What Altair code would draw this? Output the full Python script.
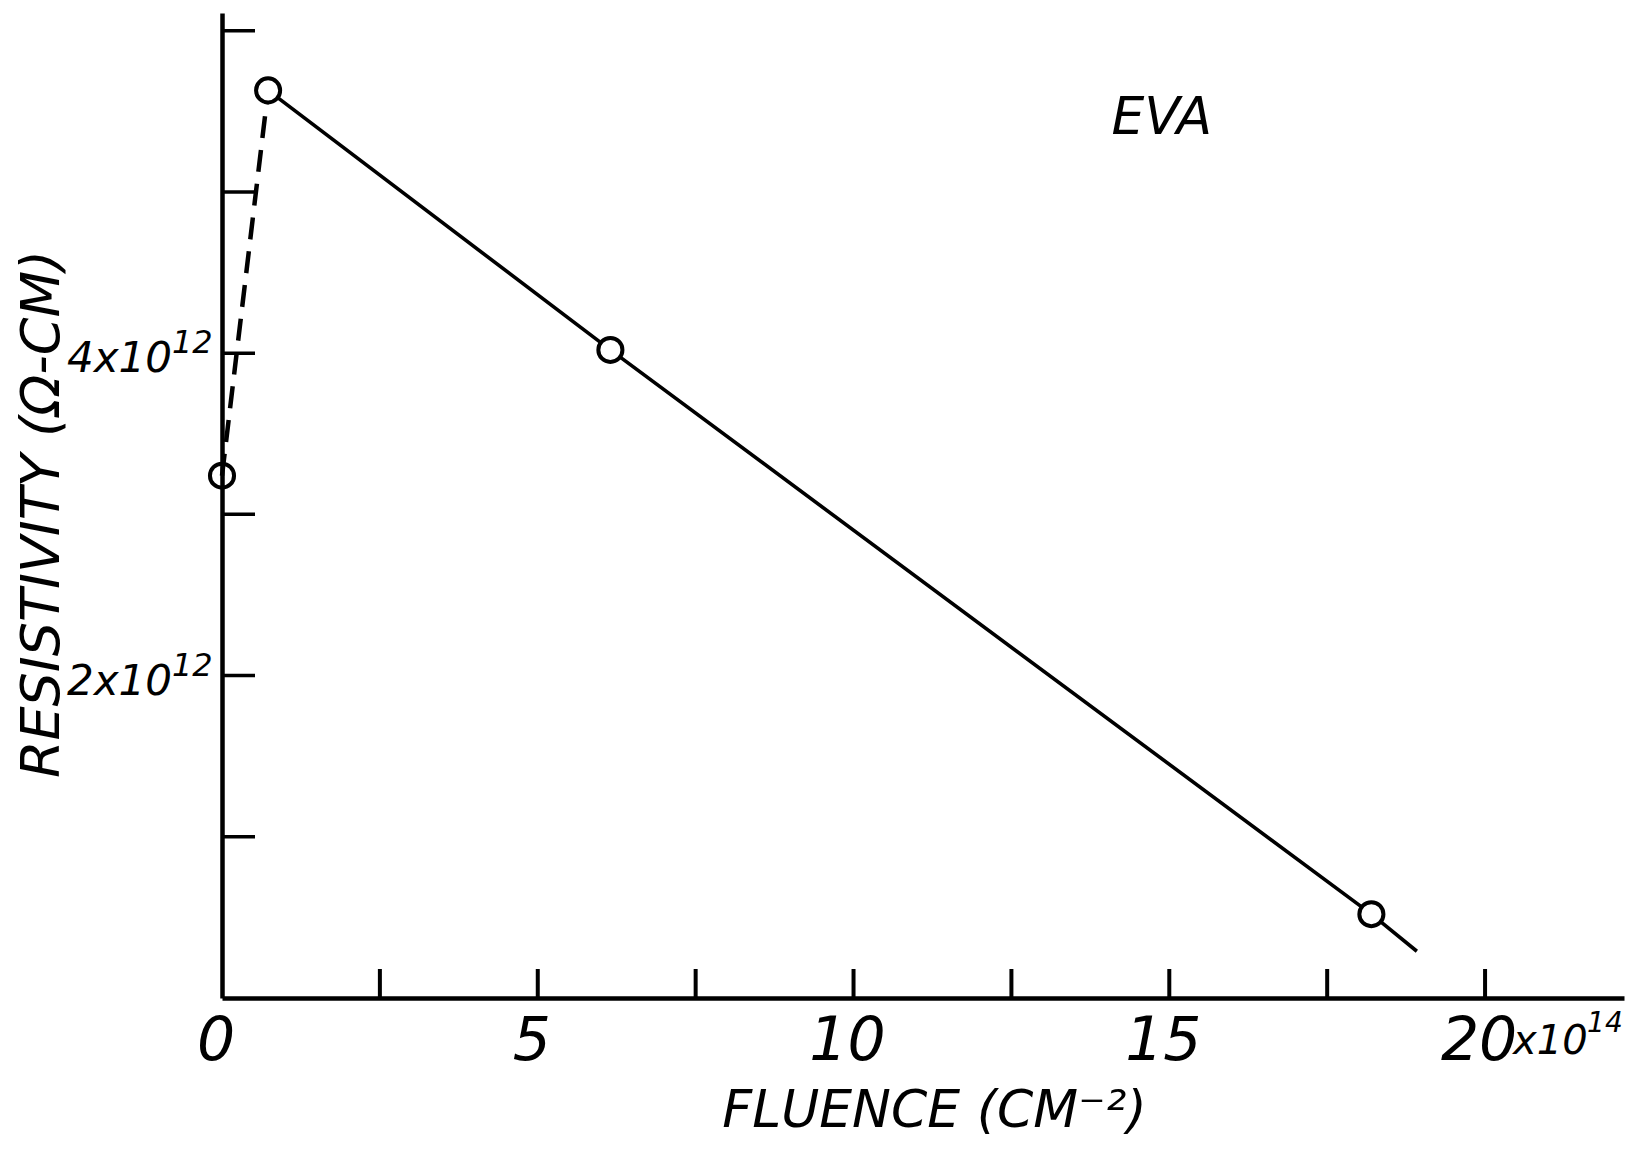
import altair as alt
import pandas as pd

# ---- data ----
fluence = [0.0, 0.73, 6.15, 18.2]          # x10^14 cm^-2
resistivity = [3.24, 5.63, 4.02, 0.52]     # x10^12 ohm-cm
point_fill = ["transparent", "white", "white", "white"]

dash_x = [0.0, 0.73]
dash_y = [3.24, 5.63]
solid_x = [0.73, 6.15, 18.2, 18.92]
solid_y = [5.63, 4.02, 0.52, 0.29]

x_ticks = [2.5, 5, 7.5, 10, 12.5, 15, 17.5, 20]
y_ticks = [1, 2, 3, 4, 5, 6]
x_label_vals = [0, 5, 10, 15, 20]
x_label_text = ["0", "5", "10", "15", "20"]
x_suffix_base = "x10"
x_suffix_exp = "14"
y_label_vals = [2, 4]
y_label_base = ["2x10", "4x10"]
y_label_exp = ["12", "12"]
ann_text = ["EVA"]
ann_x = [14.88]
ann_y = [5.46]

X_DOMAIN = [0, 22.2]
Y_DOMAIN = [0, 6.11]
W, H = 1402, 985
FONT = "DejaVu Sans"

xs = alt.Scale(domain=X_DOMAIN, nice=False, zero=False)
ys = alt.Scale(domain=Y_DOMAIN, nice=False, zero=False)

AX = alt.Axis(
    title="FLUENCE  (CM⁻²)", ticks=False, labels=False, grid=False,
    domainColor="black", domainWidth=4.5,
    titleFont=FONT, titleFontSize=52, titleFontStyle="italic", titleFontWeight="normal",
    titleX=712, titleY=112, titleAlign="center", titleBaseline="middle", titleColor="black")
AY = alt.Axis(
    title="RESISTIVITY  (Ω-CM)", ticks=False, labels=False, grid=False,
    domainColor="black", domainWidth=4.5,
    titleFont=FONT, titleFontSize=54, titleFontStyle="italic", titleFontWeight="normal",
    titleX=-180, titleY=H / 2 + 8, titleAngle=-90, titleAlign="center",
    titleBaseline="middle", titleColor="black")


def X(field):
    return alt.X(field, scale=xs, axis=AX)


def Y(field):
    return alt.Y(field, scale=ys, axis=AY)


pts = pd.DataFrame({"x": fluence, "y": resistivity, "fill": point_fill})
dash_df = pd.DataFrame({"x": dash_x, "y": dash_y})
solid_df = pd.DataFrame({"x": solid_x, "y": solid_y})
xt_df = pd.DataFrame({"x": x_ticks})
yt_df = pd.DataFrame({"y": y_ticks})
xl_df = pd.DataFrame({"x": x_label_vals, "t": x_label_text})
yl_df = pd.DataFrame({"y": y_label_vals, "b": y_label_base, "e": y_label_exp})
ann_df = pd.DataFrame({"x": ann_x, "y": ann_y, "t": ann_text})
suf_df = pd.DataFrame({"x": [x_label_vals[-1]], "b": [x_suffix_base], "e": [x_suffix_exp]})

solid = alt.Chart(solid_df).mark_line(color="black", strokeWidth=3.6).encode(
    x=X("x:Q"), y=Y("y:Q"))

dashed = alt.Chart(dash_df).mark_line(color="black", strokeWidth=4.5, strokeDash=[22, 12]).encode(
    x=X("x:Q"), y=Y("y:Q"))

points = alt.Chart(pts).mark_point(shape="circle", size=580, stroke="black",
                                   strokeWidth=4, filled=False, opacity=1).encode(
    x=X("x:Q"), y=Y("y:Q"), fill=alt.Fill("fill:N", scale=None))

xtick_rules = alt.Chart(xt_df).mark_rule(color="black", strokeWidth=4).encode(
    x=X("x:Q"), y=alt.value(H), y2=alt.value(H - 29))

ytick_rules = alt.Chart(yt_df).mark_rule(color="black", strokeWidth=3.5).encode(
    y=Y("y:Q"), x=alt.value(0), x2=alt.value(33))

txt = dict(font=FONT, fontStyle="italic", color="black")

xlabels = alt.Chart(xl_df).mark_text(fontSize=60, baseline="middle", align="center",
                                     dy=44, dx=-6, **txt).encode(
    x=X("x:Q"), y=alt.datum(0, scale=ys, axis=AY), text="t:N")

xsuffix = alt.Chart(suf_df).mark_text(fontSize=40, baseline="middle", align="left",
                                      dx=28, dy=44, **txt).encode(
    x=X("x:Q"), y=alt.datum(0, scale=ys, axis=AY), text="b:N")

xsuffix_exp = alt.Chart(suf_df).mark_text(fontSize=28, baseline="middle", align="left",
                                          dx=102, dy=26, **txt).encode(
    x=X("x:Q"), y=alt.datum(0, scale=ys, axis=AY), text="e:N")

ylabels = alt.Chart(yl_df).mark_text(fontSize=42, baseline="middle", align="right",
                                     dx=-50, dy=6, **txt).encode(
    y=Y("y:Q"), x=alt.datum(0, scale=xs, axis=AX), text="b:N")

ylabels_exp = alt.Chart(yl_df).mark_text(fontSize=32, baseline="middle", align="left",
                                         dx=-50, dy=-10, **txt).encode(
    y=Y("y:Q"), x=alt.datum(0, scale=xs, axis=AX), text="e:N")

ann = alt.Chart(ann_df).mark_text(fontSize=52, baseline="middle", align="center", **txt).encode(
    x=X("x:Q"), y=Y("y:Q"), text="t:N")

chart = alt.layer(solid, dashed, xtick_rules, ytick_rules, points, xlabels, xsuffix,
                  xsuffix_exp, ylabels, ylabels_exp, ann).properties(
    width=W, height=H,
    autosize=alt.AutoSizeParams(type="none"),
    padding={"left": 214, "top": 5, "right": 6, "bottom": 140},
).configure_view(stroke=None)

chart.save("out.html", embed_options={"renderer": "svg", "actions": False})
